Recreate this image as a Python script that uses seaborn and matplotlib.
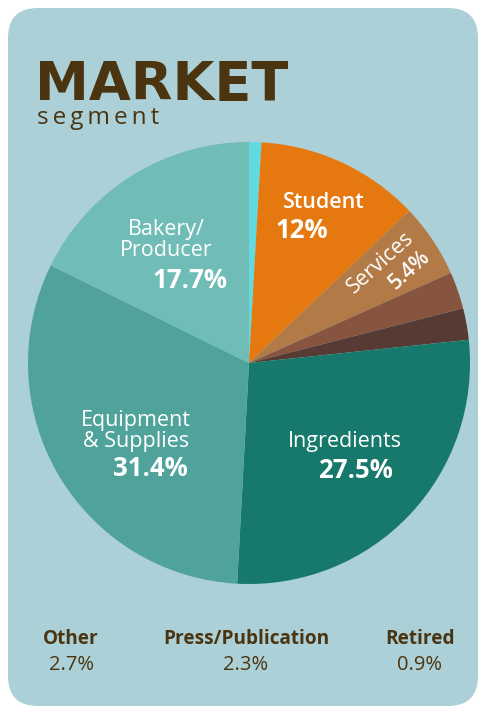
import matplotlib
matplotlib.use("Agg")
import matplotlib.pyplot as plt
from matplotlib.patches import FancyBboxPatch
import seaborn as sns

# Data
categories = ["Retired", "Student", "Services", "Other", "Press/Publication",
              "Ingredients", "Equipment & Supplies", "Bakery/Producer"]
values = [0.9, 12, 5.4, 2.7, 2.3, 27.5, 31.4, 17.7]
colors = ["#62dbe0", "#e5790f", "#b27a46", "#87543f", "#583a35",
          "#17796b", "#4fa39a", "#70bcb6"]
bottom_names = ["Other", "Press/Publication", "Retired"]
bottom_pcts = ["2.7%", "2.3%", "0.9%"]

sns.set_theme(style="white")
plt.rcParams['font.family'] = ['Open Sans', 'DejaVu Sans']

W, H = 482, 717
fig = plt.figure(figsize=(W / 100, H / 100), dpi=100)
fig.patch.set_facecolor("white")

# Background card
bg = fig.add_axes([0, 0, 1, 1])
bg.set_xlim(0, W)
bg.set_ylim(H, 0)
bg.axis("off")
card = FancyBboxPatch((8 + 30, 8 + 30), 470 - 60, 698 - 60,
                      boxstyle="round,pad=30", fc="#acd0d8", ec="none")
bg.add_patch(card)

title_col = "#4b3510"
bg.text(35, 100, "MARKET", fontsize=39, fontweight="bold", color=title_col,
        ha="left", va="baseline", family=["DejaVu Sans"])
bg.text(37, 124, "\u2009".join("segment"), fontsize=17.5, color=title_col,
        ha="left", va="baseline")

# Pie
cx, cy, r = 249, 363, 221
ax = fig.add_axes([(cx - r) / W, (H - cy - r) / H, 2 * r / W, 2 * r / H])
ax.pie(values, colors=colors, startangle=90, counterclock=False,
       wedgeprops=dict(linewidth=0))
ax.set_xlim(-1, 1)
ax.set_ylim(-1, 1)
ax.set_aspect("auto")
ax.axis("off")

def d(px, py):
    return (px - cx) / r, (cy - py) / r

def lab(px, py, s, size=15.5, weight="normal", rot=0):
    x, y = d(px, py)
    ax.text(x, y, s, fontsize=size, fontweight=weight, color="white",
            ha="center", va="center", rotation=rot, rotation_mode="anchor",
            linespacing=1.0)

lab(324, 202, "Student", 15.5, "semibold")
lab(302, 231, "12%", 18.5, "bold")
lab(381, 263, "Services", 15.5, "normal", rot=42)
lab(410, 270, "5.4%", 15, "semibold", rot=42)
lab(166, 240, "Bakery/\nProducer", 15.5)
lab(190, 280, "17.7%", 18.5, "bold")
lab(136, 431, "Equipment\n& Supplies", 15.5)
lab(150, 469, "31.4%", 18.5, "bold")
lab(345, 441, "Ingredients", 15.5)
lab(355, 471, "27.5%", 18.5, "bold")

# Bottom small slices labels
bottom_x = [71, 246, 420]
for name, pct, px in zip(bottom_names, bottom_pcts, bottom_x):
    bg.text(px, 639, name, fontsize=13.7, fontweight="bold", color=title_col,
            ha="center", va="center")
    bg.text(px, 665, pct, fontsize=14.5, color=title_col, ha="center", va="center")

fig.savefig("out.png", dpi=100, facecolor=fig.get_facecolor())
